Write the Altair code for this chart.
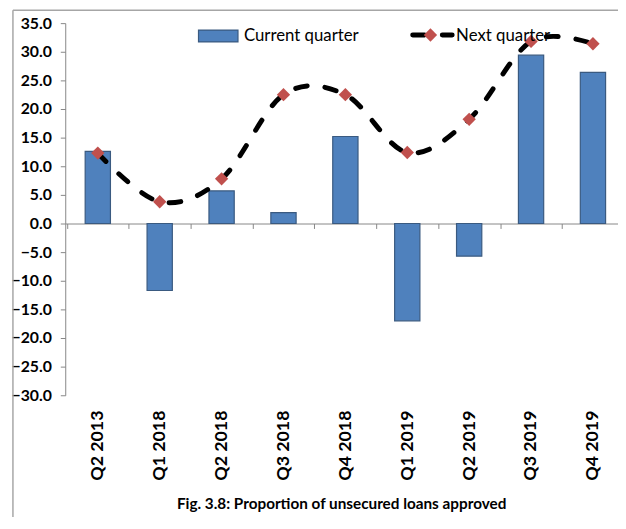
import altair as alt
import pandas as pd

categories = ["Q2 2013", "Q1 2018", "Q2 2018", "Q3 2018", "Q4 2018",
              "Q1 2019", "Q2 2019", "Q3 2019", "Q4 2019"]
current_quarter = [12.6, -11.7, 5.7, 1.9, 15.2, -17.0, -5.7, 29.4, 26.4]
next_quarter = [12.3, 3.8, 7.8, 22.5, 22.5, 12.4, 18.2, 31.8, 31.4]
y_ticks = [-30, -25, -20, -15, -10, -5, 0, 5, 10, 15, 20, 25, 30, 35]
title_text = "Fig. 3.8: Proportion of unsecured loans approved"

FONT = "Lato, Liberation Sans, sans-serif"
BAR_FILL = "#4F81BD"
BAR_STROKE = "#3A5A80"
DIAMOND = "#C0504D"
AXIS_GRAY = "#868686"

df = pd.DataFrame({"quarter": categories, "current": current_quarter, "next": next_quarter})

W, H = 560, 377

x_scale = alt.Scale(range=[0, 567.6], paddingInner=0, paddingOuter=0.026)
x_axis = alt.Axis(title=None, offset=-174, tickBand="extent", tickSize=5,
                  labelPadding=184, labelAngle=-90, labelFont=FONT, labelFontSize=18,
                  labelFontWeight="bold", labelColor="black", domainColor=AXIS_GRAY,
                  tickColor=AXIS_GRAY, labelOverlap=False)
y_scale = alt.Scale(domain=[-30, 35], nice=False, zero=False)
y_axis = alt.Axis(title=None, values=y_ticks, format=".1f", grid=False, tickSize=5,
                  labelPadding=9, labelFont=FONT, labelFontSize=16, labelFontWeight="bold",
                  labelColor="black", domainColor=AXIS_GRAY, tickColor=AXIS_GRAY,
                  labelOverlap=False, labelBound=False)


def xq():
    return alt.X("quarter:N", sort=categories, scale=x_scale, axis=x_axis)


def yq(field):
    return alt.Y(field, type="quantitative", scale=y_scale, axis=y_axis)


base = alt.Chart(df)

bars = base.mark_bar(width=25.6, fill=BAR_FILL, stroke=BAR_STROKE, strokeWidth=1.2).encode(
    x=xq(), y=yq("current")
)

line = base.mark_line(color="black", strokeWidth=5, strokeDash=[12, 18], strokeCap="round",
                      interpolate="cardinal").encode(x=xq(), y=yq("next"))

points = base.mark_point(shape="diamond", filled=True, size=182, color=DIAMOND, opacity=1).encode(
    x=xq(), y=yq("next"))

one = alt.Chart(pd.DataFrame({"a": [0]}))

# frame lines
frame_gray = "#A6A6A6"
frame = alt.layer(
    one.mark_rule(color=frame_gray, strokeWidth=1.5).encode(
        x=alt.value(-53), y=alt.value(-13), y2=alt.value(515)),
    one.mark_rule(color=frame_gray, strokeWidth=1.5).encode(
        x=alt.value(-53), x2=alt.value(570), y=alt.value(-13)),
)

# legend
legend = alt.layer(
    one.mark_rect(fill=BAR_FILL, stroke=BAR_STROKE, strokeWidth=1.2).encode(
        x=alt.value(135), x2=alt.value(175), y=alt.value(7), y2=alt.value(19)),
    one.mark_text(text="Current quarter", align="left", baseline="middle", font=FONT,
                  fontSize=17, color="black").encode(x=alt.value(181), y=alt.value(13)),
    one.mark_rule(color="black", strokeWidth=5, strokeDash=[12, 18], strokeCap="round").encode(
        x=alt.value(352), x2=alt.value(392), y=alt.value(12)),
    one.mark_point(shape="diamond", filled=True, size=182, color=DIAMOND, opacity=1).encode(
        x=alt.value(370), y=alt.value(12)),
    one.mark_text(text="Next quarter", align="left", baseline="middle", font=FONT,
                  fontSize=17, color="black").encode(x=alt.value(396), y=alt.value(13)),
)

chart = alt.layer(bars, line, points, frame, legend).properties(
    width=W, height=H,
    background="white",
    padding={"left": 58, "top": 12, "right": 0, "bottom": 120},
    autosize=alt.AutoSizeParams(type="none"),
    title=alt.Title(title_text, orient="bottom", anchor="middle", font=FONT, fontSize=15.5,
                    fontWeight="bold", color="black", offset=-36),
).configure_view(stroke=None)

chart.save("out.html", embed_options={"renderer": "svg", "actions": False})
